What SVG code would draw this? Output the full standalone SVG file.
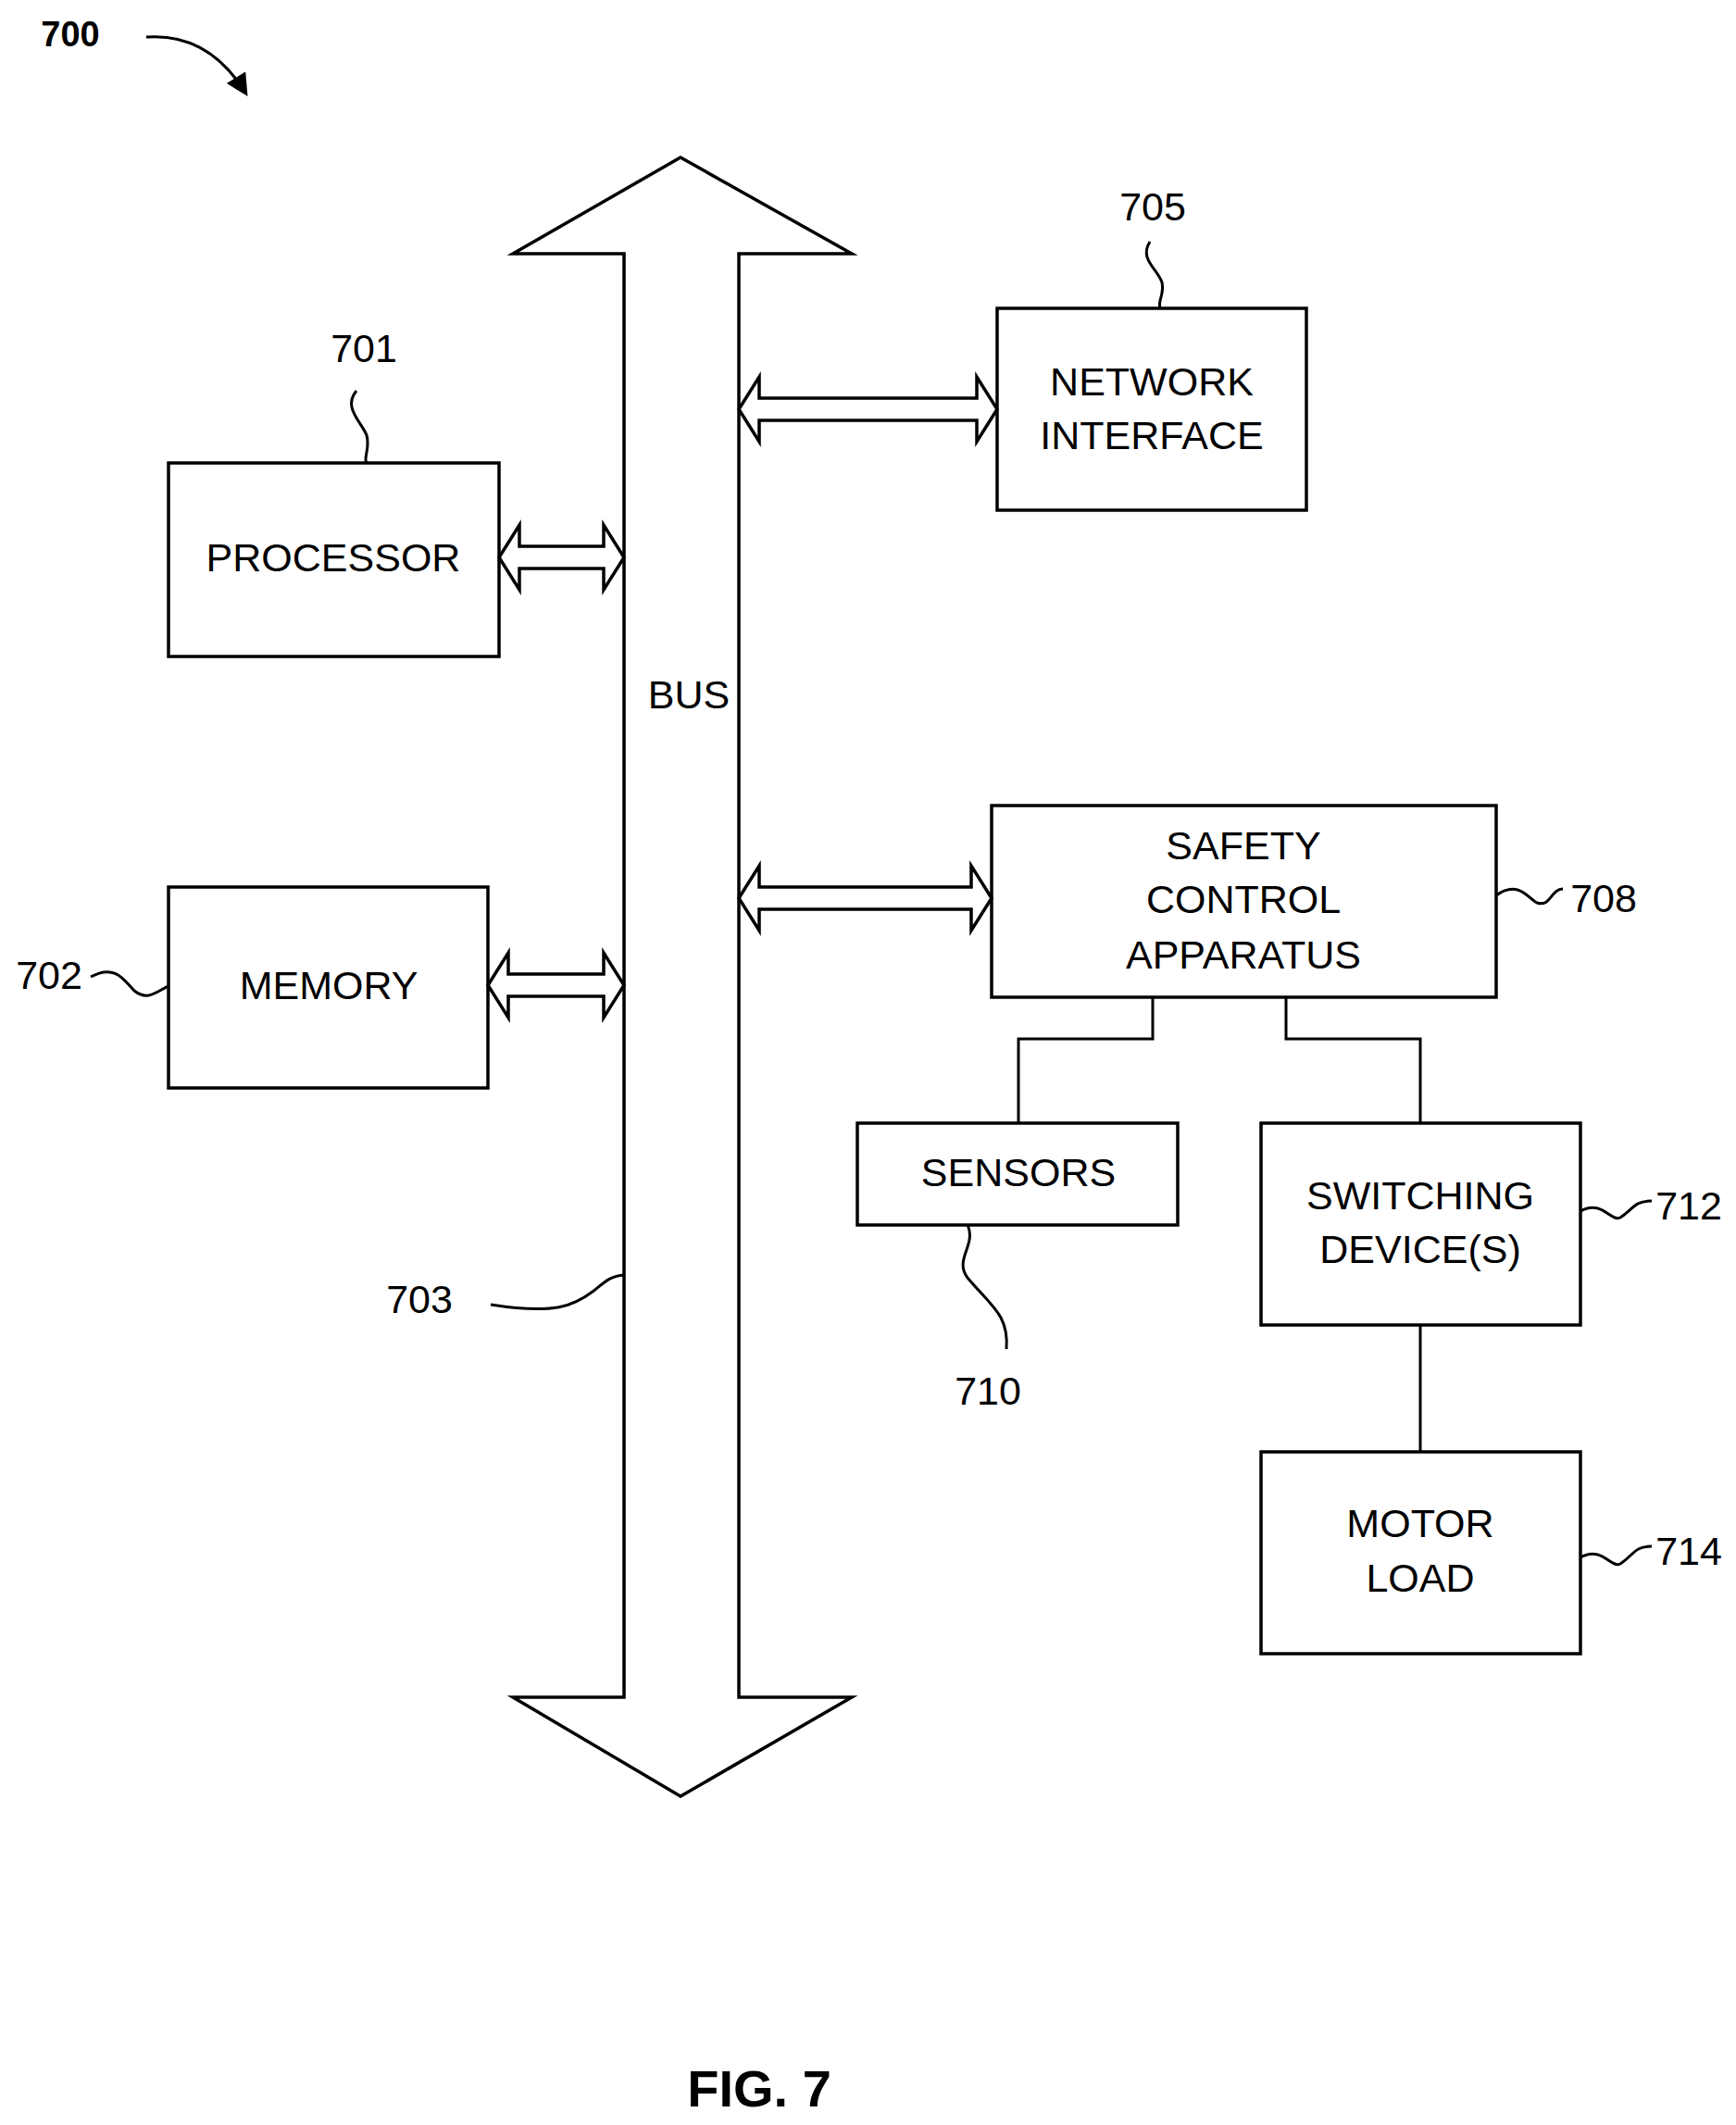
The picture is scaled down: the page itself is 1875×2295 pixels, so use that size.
<svg xmlns="http://www.w3.org/2000/svg" width="1875" height="2295" viewBox="0 0 1875 2295">
<style>
.b{fill:#fff;stroke:#000;stroke-width:3.5}
.t{font-family:"Liberation Sans",Arial,sans-serif;font-size:43px;text-anchor:middle;fill:#000}
.w{fill:none;stroke:#000;stroke-width:3}
.c{fill:none;stroke:#000;stroke-width:3}
</style>
<defs>
<marker id="ah" viewBox="0 0 10 10" refX="8" refY="5" markerWidth="8" markerHeight="8" orient="auto"><path d="M0,0 L10,5 L0,10 z" fill="#000"/></marker>
</defs>
<rect width="1875" height="2295" fill="#fff"/>
<g id="fig-label">
<text x="76" y="50" style="font-family:'Liberation Sans',Arial,sans-serif;font-size:38px;font-weight:bold" text-anchor="middle">700</text>
<path d="M158,40 Q225,35 265,100" class="w" marker-end="url(#ah)"/>
<text x="820" y="2275" style="font-family:'Liberation Sans',Arial,sans-serif;font-size:56px;font-weight:bold" text-anchor="middle">FIG. 7</text>
</g>
<g id="bus">
<path d="M735,170 L920,274 L798,274 L798,1833 L920,1833 L735,1940 L554,1833 L674,1833 L674,274 L554,274 Z" class="b"/>
<text x="744" y="765" class="t">BUS</text>
<path d="M530,1409 C600,1420 620,1410 640,1395 C655,1383 660,1378 674,1377" class="w"/>
<text x="453" y="1418" class="t">703</text>
</g>
<g id="processor">
<rect x="182" y="500" width="357" height="209" class="b"/>
<text x="360" y="617" class="t">PROCESSOR</text>
<text x="393" y="391" class="t">701</text>
<path d="M385,422 C370,440 390,455 396,470 C400,485 392,495 396,500" class="w"/>
</g>
<g id="memory">
<rect x="182" y="958" width="345" height="217" class="b"/>
<text x="355" y="1079" class="t">MEMORY</text>
<text x="53" y="1068" class="t">702</text>
<path d="M98,1055 C125,1040 135,1060 145,1070 C160,1082 170,1070 182,1065" class="w"/>
</g>
<g id="network">
<rect x="1077" y="333" width="334" height="218" class="b"/>
<text x="1244" y="427" class="t">NETWORK</text>
<text x="1244" y="485" class="t">INTERFACE</text>
<text x="1245" y="238" class="t">705</text>
<path d="M1242,261 C1230,280 1250,290 1255,305 C1258,318 1250,325 1253,333" class="w"/>
</g>
<g id="safety">
<rect x="1071" y="870" width="545" height="207" class="b"/>
<text x="1343" y="928" class="t">SAFETY</text>
<text x="1343" y="986" class="t">CONTROL</text>
<text x="1343" y="1046" class="t">APPARATUS</text>
<text x="1732" y="985" class="t">708</text>
<path d="M1616,967 C1640,950 1650,970 1660,975 C1675,980 1675,960 1688,960" class="w"/>
</g>
<g id="sensors">
<rect x="926" y="1213" width="346" height="110" class="b"/>
<text x="1100" y="1281" class="t">SENSORS</text>
<text x="1067" y="1517" class="t">710</text>
<path d="M1045,1323 C1055,1345 1030,1360 1045,1380 C1070,1410 1090,1420 1087,1457" class="w"/>
</g>
<g id="switching">
<rect x="1362" y="1213" width="345" height="218" class="b"/>
<text x="1534" y="1306" class="t">SWITCHING</text>
<text x="1534" y="1364" class="t">DEVICE(S)</text>
<text x="1824" y="1317" class="t">712</text>
<path d="M1707,1308 C1730,1295 1740,1320 1750,1315 C1765,1305 1765,1297 1784,1297" class="w"/>
</g>
<g id="motor">
<rect x="1362" y="1568" width="345" height="218" class="b"/>
<text x="1534" y="1660" class="t">MOTOR</text>
<text x="1534" y="1719" class="t">LOAD</text>
<text x="1824" y="1690" class="t">714</text>
<path d="M1707,1682 C1730,1669 1740,1694 1750,1689 C1765,1679 1765,1670 1784,1670" class="w"/>
</g>
<g id="connectors">
<path d="M539,602 l22,-35 v23 h91 v-23 l22,35 l-22,35 v-23 h-91 v23 z" class="b"/>
<path d="M527,1064 l22,-35 v23 h103 v-23 l22,35 l-22,35 v-23 h-103 v23 z" class="b"/>
<path d="M798,442 l22,-35 v23 h235 v-23 l22,35 l-22,35 v-23 h-235 v23 z" class="b"/>
<path d="M798,970 l22,-35 v23 h229 v-23 l22,35 l-22,35 v-23 h-229 v23 z" class="b"/>
<path d="M1245,1077 V1122 H1100 V1213" class="c"/>
<path d="M1389,1077 V1122 H1534 V1213" class="c"/>
<path d="M1534,1431 V1568" class="c"/>
</g>
</svg>
